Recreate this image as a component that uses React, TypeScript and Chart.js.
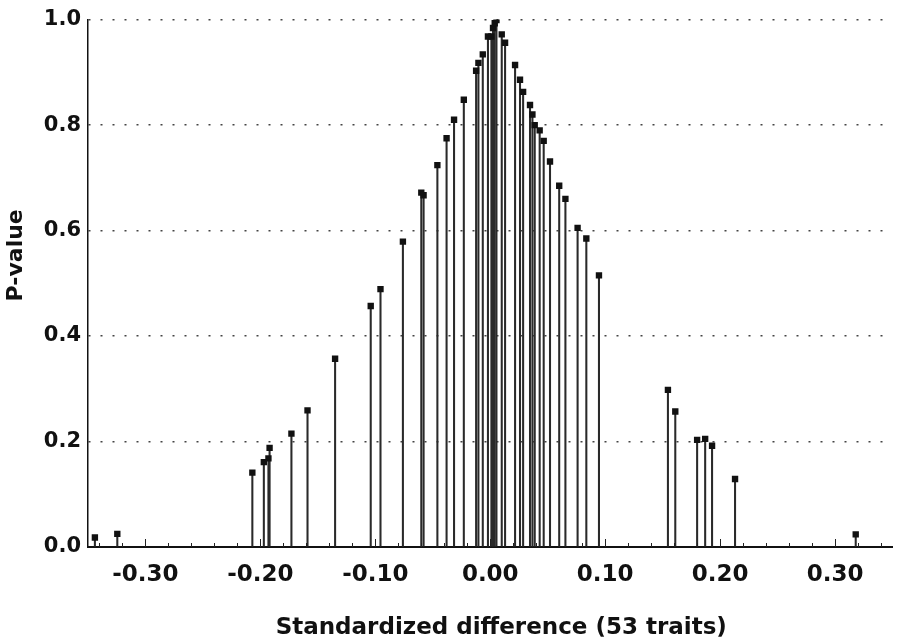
import React, { useEffect, useRef } from 'react';
import { Chart, registerables } from 'chart.js';

Chart.register(...registerables);

// Standardized difference of each trait (x) and its P-value (y)
const differences = [
  -0.344, -0.3245, -0.207, -0.197, -0.193, -0.192, -0.173, -0.159, -0.135, -0.104,
  -0.0955, -0.076, -0.060, -0.058, -0.046, -0.038, -0.0315, -0.023, -0.0123, -0.0103,
  -0.0065, -0.002, 0.001, 0.0024, 0.0039, 0.0054, 0.010, 0.0129, 0.0216, 0.0259,
  0.0286, 0.0346, 0.0367, 0.0387, 0.043, 0.0465, 0.052, 0.060, 0.0654, 0.076,
  0.0836, 0.0946, 0.1546, 0.161, 0.180, 0.187, 0.193, 0.213, 0.318,
];
const pValues = [
  0.018, 0.025, 0.141, 0.161, 0.168, 0.188, 0.215, 0.259, 0.357, 0.457,
  0.489, 0.579, 0.672, 0.667, 0.724, 0.775, 0.810, 0.848, 0.903, 0.918,
  0.934, 0.968, 0.968, 0.984, 0.993, 0.999, 0.972, 0.956, 0.914, 0.886,
  0.863, 0.838, 0.820, 0.800, 0.790, 0.770, 0.731, 0.685, 0.660, 0.605,
  0.585, 0.515, 0.298, 0.257, 0.203, 0.205, 0.192, 0.129, 0.024,
];

const xMin = -0.35;
const xMax = 0.35;
const xMinorStep = 0.02;
const xLabelledTicks = [-0.3, -0.2, -0.1, 0, 0.1, 0.2, 0.3];
const yMin = 0;
const yMax = 1;
const yStep = 0.2;
const xTitle = 'Standardized difference (53 traits)';
const yTitle = 'P-value';

const FONT = '"DejaVu Sans", "Liberation Sans", sans-serif';
const INK = '#111';

const isLabelled = (v: number) => xLabelledTicks.some((t) => Math.abs(t - v) < 1e-6);

export default function App() {
  const ref = useRef<HTMLCanvasElement>(null);

  useEffect(() => {
    if (!ref.current) return;
    const points = differences.map((d, i) => ({ x: d, y: pValues[i] }));

    const tickValues: number[] = [];
    for (let k = Math.ceil((xMin + 1e-9) / xMinorStep); k * xMinorStep < xMax - 1e-9; k++) {
      tickValues.push(Math.round(k * xMinorStep * 1000) / 1000);
    }

    const innerTicks = {
      id: 'innerTicks',
      afterDraw(chart: any) {
        const xs = chart.scales.x;
        const ctx = chart.ctx;
        const bottom = chart.chartArea.bottom;
        ctx.save();
        ctx.strokeStyle = '#222';
        ctx.lineWidth = 1;
        xs.ticks.forEach((t: any) => {
          const major = isLabelled(t.value);
          const px = Math.round(xs.getPixelForValue(t.value)) + 0.5;
          ctx.beginPath();
          ctx.moveTo(px, bottom);
          ctx.lineTo(px, bottom - (major ? 8 : 4));
          ctx.stroke();
        });
        ctx.restore();
      },
    };

    const axisTitles = {
      id: 'axisTitles',
      afterDraw(chart: any) {
        const ctx = chart.ctx;
        const a = chart.chartArea;
        ctx.save();
        ctx.fillStyle = INK;
        ctx.textAlign = 'center';
        ctx.textBaseline = 'middle';
        ctx.font = `bold 22px ${FONT}`;
        ctx.translate(16, (a.top + a.bottom) / 2 - 28);
        ctx.rotate(-Math.PI / 2);
        ctx.fillText(yTitle, 0, 0);
        ctx.restore();
        ctx.save();
        ctx.fillStyle = INK;
        ctx.textAlign = 'center';
        ctx.textBaseline = 'middle';
        ctx.font = `bold 23px ${FONT}`;
        ctx.fillText(xTitle, (a.left + a.right) / 2 + 11, a.bottom + 81);
        ctx.restore();
      },
    };

    const chart = new Chart(ref.current, {
      type: 'scatter',
      data: {
        datasets: [
          {
            type: 'scatter',
            data: points,
            pointStyle: 'rect',
            pointRadius: 4.5,
            pointHoverRadius: 4.5,
            backgroundColor: INK,
            borderColor: INK,
            borderWidth: 0,
          } as any,
          {
            type: 'bar',
            data: points,
            barThickness: 1.4,
            backgroundColor: '#2a2a2a',
            borderWidth: 0,
          } as any,
        ],
      },
      options: {
        animation: false,
        responsive: true,
        maintainAspectRatio: false,
        events: [],
        layout: { padding: { top: 16, right: 2, left: 0, bottom: 0 } },
        plugins: {
          legend: { display: false },
          tooltip: { enabled: false },
        },
        scales: {
          x: {
            type: 'linear',
            min: xMin,
            max: xMax,
            offset: false,
            afterBuildTicks: (scale: any) => {
              scale.ticks = tickValues.map((v) => ({ value: v }));
            },
            afterFit: (scale: any) => {
              scale.height = 95;
            },
            grid: { display: false, drawTicks: false },
            border: { display: true, color: INK, width: 2 },
            ticks: {
              autoSkip: false,
              maxRotation: 0,
              padding: 14,
              color: INK,
              font: { family: FONT, size: 23, weight: 'bold' },
              callback: (v: any) => (isLabelled(Number(v)) ? Number(v).toFixed(2) : ''),
            },
          },
          y: {
            type: 'linear',
            min: yMin,
            max: yMax,
            afterFit: (scale: any) => {
              scale.width = 88;
            },
            grid: {
              drawTicks: false,
              lineWidth: 1.6,
              color: (c: any) => (c.tick && Math.abs(c.tick.value) < 1e-9 ? 'rgba(0,0,0,0)' : '#444'),
            },
            border: { display: true, color: INK, width: 1.5, dash: [2, 10] },
            ticks: {
              stepSize: yStep,
              padding: 7,
              color: INK,
              font: { family: FONT, size: 21, weight: 'bold' },
              callback: (v: any) => Number(v).toFixed(1),
            },
          },
        },
      } as any,
      plugins: [innerTicks, axisTitles],
    });

    return () => chart.destroy();
  }, []);

  return (
    <div style={{ position: 'fixed', left: 0, top: 0, width: 897, height: 642, background: '#fff' }}>
      <canvas ref={ref} />
    </div>
  );
}
